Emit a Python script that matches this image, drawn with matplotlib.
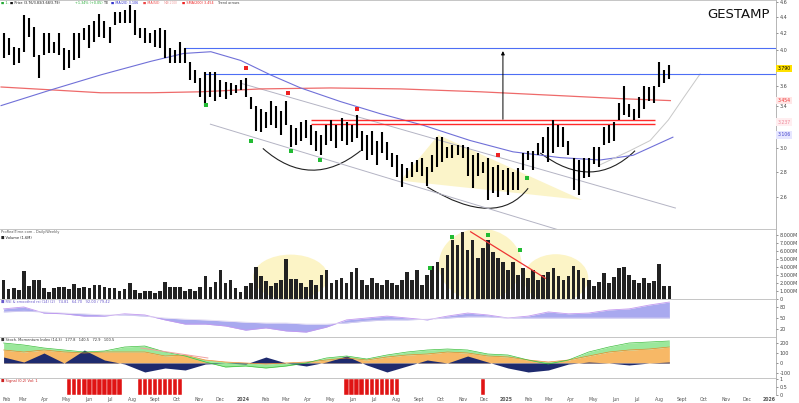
import datetime as dt
import matplotlib
matplotlib.use("Agg")
import matplotlib.pyplot as plt
import matplotlib.dates as mdates
from matplotlib.patches import Ellipse, Polygon, PathPatch
from matplotlib.path import Path
import numpy as np

# weekly bars, first week 2023-02-03
start = dt.date(2023, 2, 3)
highs = [4.20, 4.14, 4.03, 4.02, 4.43, 4.39, 4.28, 3.94, 4.21, 4.21, 4.09, 4.20, 4.02, 4.00, 4.20, 4.20,
         4.26, 4.30, 4.36, 4.45, 4.36, 4.28, 4.47, 4.47, 4.49, 4.56, 4.49, 4.26, 4.26, 4.21, 4.24, 4.26,
         4.24, 4.02, 4.00, 4.09, 4.02, 3.86, 3.77, 3.69, 3.75, 3.75, 3.75, 3.66, 3.64, 3.63, 3.61, 3.66,
         3.69, 3.49, 3.40, 3.37, 3.34, 3.45, 3.40, 3.35, 3.45, 3.21, 3.18, 3.24, 3.26, 3.21, 3.16, 3.12,
         3.21, 3.26, 3.21, 3.28, 3.24, 3.21, 3.31, 3.16, 3.12, 3.16, 3.07, 3.15, 3.06, 2.96, 2.94, 2.87,
         2.83, 2.88, 2.90, 2.92, 2.84, 2.94, 3.10, 3.10, 3.01, 3.03, 3.03, 3.03, 3.01, 2.94, 2.96, 2.88,
         2.92, 2.84, 2.86, 2.82, 2.83, 2.80, 2.83, 2.96, 2.98, 2.98, 3.05, 3.10, 3.19, 3.26, 3.21, 3.19,
         3.07, 2.92, 2.90, 2.92, 2.92, 3.01, 3.01, 3.19, 3.21, 3.24, 3.43, 3.60, 3.42, 3.37, 3.49, 3.60,
         3.59, 3.60, 3.86, 3.77, 3.83]
lows = [3.91, 3.94, 3.83, 3.85, 3.98, 4.15, 3.92, 3.69, 3.94, 3.96, 3.96, 3.94, 3.77, 3.79, 3.88, 3.91,
        4.12, 4.02, 4.09, 4.15, 4.14, 4.08, 4.30, 4.33, 4.33, 4.33, 4.18, 4.14, 4.08, 4.08, 4.03, 4.02,
        3.91, 3.85, 3.85, 3.85, 3.85, 3.66, 3.63, 3.49, 3.40, 3.49, 3.45, 3.49, 3.47, 3.51, 3.53, 3.56,
        3.49, 3.37, 3.16, 3.15, 3.18, 3.21, 3.18, 3.12, 3.21, 3.01, 3.03, 3.07, 3.09, 3.03, 2.98, 2.94,
        3.03, 3.07, 3.00, 3.07, 3.03, 3.06, 3.09, 2.98, 2.90, 2.94, 2.86, 2.96, 2.90, 2.84, 2.76, 2.68,
        2.75, 2.76, 2.80, 2.77, 2.69, 2.80, 2.84, 2.88, 2.92, 2.92, 2.94, 2.92, 2.77, 2.67, 2.77, 2.79,
        2.58, 2.63, 2.60, 2.66, 2.62, 2.66, 2.66, 2.82, 2.90, 2.82, 2.94, 2.96, 2.88, 2.96, 3.01, 3.01,
        2.94, 2.66, 2.62, 2.75, 2.76, 2.87, 2.84, 3.03, 3.05, 3.07, 3.26, 3.31, 3.29, 3.26, 3.28, 3.37,
        3.45, 3.43, 3.59, 3.63, 3.68]
volume = [2.4, 1.25, 1.4, 1.1, 3.5, 1.6, 2.4, 2.4, 1.4, 0.9, 1.4, 1.5, 1.5, 1.25, 1.9, 1.4,
          1.5, 1.4, 1.75, 1.75, 1.5, 1.4, 1.4, 1.0, 1.25, 2.0, 1.1, 0.75, 1.0, 1.0, 0.75, 1.0,
          2.1, 1.5, 1.5, 1.5, 1.0, 1.25, 1.0, 1.5, 2.9, 1.5, 2.1, 3.6, 2.0, 2.4, 1.4, 0.9,
          1.6, 2.0, 4.0, 2.9, 2.25, 1.6, 2.0, 2.4, 5.0, 2.5, 2.5, 2.0, 1.5, 2.4, 1.75, 3.0,
          3.6, 2.0, 2.4, 2.6, 2.0, 3.4, 3.9, 2.4, 1.75, 2.6, 2.0, 1.75, 2.4, 2.0, 1.75, 2.4,
          3.4, 2.4, 3.6, 1.75, 3.0, 4.1, 4.6, 3.9, 5.5, 7.4, 6.75, 8.4, 6.1, 7.4, 5.1, 6.4,
          7.4, 5.9, 5.1, 4.6, 3.6, 4.6, 3.0, 3.9, 2.6, 3.6, 2.4, 3.0, 3.4, 3.9, 2.9, 2.4,
          2.9, 4.1, 3.6, 2.6, 2.4, 1.6, 2.1, 3.25, 2.0, 2.75, 3.9, 4.0, 3.0, 2.4, 2.0, 2.6,
          2.0, 2.25, 4.4, 1.6, 1.6]

# moving averages (bar index, price)
ma_blue_bar = [-0.5, 9.4, 19.3, 29.2, 35.7, 41.1, 47.0, 52.9, 58.9, 66.8, 74.7, 83.2, 92.5, 101.0, 110.4, 118.3, 124.8, 132.7]
ma_blue = [3.40, 3.56, 3.72, 3.87, 3.96, 3.98, 3.88, 3.72, 3.58, 3.44, 3.32, 3.21, 3.07, 2.97, 2.92, 2.90, 2.94, 3.10]
ma_red_bar = [-0.5, 9.4, 19.3, 29.2, 39.1, 51.0, 64.8, 78.7, 94.5, 110.4, 122.2, 132.2]
ma_red = [3.59, 3.56, 3.53, 3.53, 3.54, 3.57, 3.58, 3.57, 3.54, 3.50, 3.47, 3.45]
gray_bar = [118.3, 124.2, 128.2, 131.8, 135.1, 138.1]
gray_curve = [2.86, 2.98, 3.07, 3.26, 3.50, 3.73]

# markers (bar index, price)
red_marks = [(48.0, 3.80), (56.3, 3.53), (70.0, 3.37), (98.1, 2.94)]
green_marks = [(40.1, 3.41), (49.0, 3.07), (56.9, 2.98), (62.8, 2.90), (103.8, 2.75)]
vol_marks = [(84.6, 3.9), (89.0, 7.75), (96.1, 8.0), (102.4, 6.1)]

# indicator knots every 4 weeks
knot_bar = list(range(0, 133, 4))
rsi = [74, 79, 63, 61, 55, 55, 61, 58, 45, 34, 34, 29, 18, 24, 16, 13, 26, 45, 50, 55, 50, 45, 55, 63,
       58, 50, 55, 66, 61, 63, 71, 74, 84, 92]
rsi_smooth = [66, 68, 66, 63, 61, 58, 58, 55, 50, 47, 45, 42, 39, 37, 37, 34, 34, 37, 42, 45, 45, 47, 50, 53,
              53, 50, 50, 50, 50, 50, 50, 50, 50, 50]
stoch_orange = [130, 110, 130, 110, 100, 110, 110, 110, 70, 80, 30, 10, 0, -10, 0, 10, 30, 50, 30, 60, 80, 90,
                110, 100, 70, 60, 30, 10, 30, 70, 110, 130, 140, 160]
stoch_green = [200, 180, 150, 130, 110, 120, 160, 170, 110, 70, 10, -40, -30, -50, -30, 0, 50, 70, 40, 80, 110,
               130, 140, 130, 90, 80, 30, -10, 30, 110, 160, 200, 210, 220]
stoch_navy = [60, 10, 100, 0, 130, 30, -10, -90, -50, -70, -10, 0, -10, 60, 0, -30, 10, 70, -20, -90, -30, 30,
              0, 70, 10, -50, -90, -70, -10, 10, 0, -20, 0, 10]
signal_bars = list(range(13, 24)) + list(range(27, 36)) + list(range(68, 79)) + [95]

W, H = 799, 403
fig = plt.figure(figsize=(W / 100, H / 100), dpi=100)
d0 = mdates.date2num(start)


def bx(b):
    return d0 + 7 * np.asarray(b, dtype=float)


dates = bx(np.arange(len(highs)))
x0 = mdates.date2num(dt.date(2023, 1, 29))
x1 = mdates.date2num(dt.date(2026, 1, 10))


def panel(top, bottom):
    a = fig.add_axes([0, 1 - bottom / H, 776 / W, (bottom - top) / H])
    a.set_xlim(x0, x1)
    a.yaxis.tick_right()
    a.tick_params(axis="y", labelsize=3.5, length=1.5, width=0.4, colors="#444444", pad=1)
    a.tick_params(axis="x", bottom=False, labelbottom=False)
    for s in ("left", "bottom"):
        a.spines[s].set_visible(False)
    a.spines["top"].set_color("#bbbbbb")
    a.spines["top"].set_linewidth(0.6)
    a.spines["right"].set_color("#999999")
    a.spines["right"].set_linewidth(0.5)
    return a


ax = panel(0, 229)
axv = panel(229, 299)
axr = panel(299, 337)
axs = panel(337, 378)
axg = panel(378, 395)

# ---- price panel
ax.set_yscale("log")
ax.set_ylim(2.37, 4.63)
ticks = [4.6, 4.4, 4.2, 4.0, 3.6, 3.4, 3.0, 2.8, 2.6]
ax.yaxis.set_minor_locator(matplotlib.ticker.NullLocator())
ax.set_yticks(ticks, [f"{t:.1f}" for t in ticks])

ax.add_patch(Polygon([(bx(78.7), 2.73), (bx(86.2), 3.12), (bx(114.7), 2.58)], closed=True,
                     fc="#fbf3c4", ec="none", alpha=0.9, zorder=0))
ax.plot([bx(47.0), bx(133.2)], [3.63, 2.52], color="#b4b4c4", lw=0.7)
ax.plot([bx(41.0), bx(110.4)], [3.22, 2.36], color="#b4b4c4", lw=0.7)
ax.plot(bx(ma_red_bar), ma_red, color="#ee6a6a", lw=0.9)
ax.plot(bx(ma_blue_bar), ma_blue, color="#7070d8", lw=0.8)
ax.plot(bx(gray_bar), gray_curve, color="#c8c8c8", lw=0.7)
ax.hlines(4.02, bx(35.7), x1, color="#4d6ef5", lw=0.8)
ax.hlines(3.727, bx(39.7), x1, color="#4d6ef5", lw=0.8)
ax.hlines([3.26, 3.22], bx(60.9), bx(129.2), color="#ff2a2a", lw=1.0)
ax.annotate("", xy=(bx(99), 4.02), xytext=(bx(99), 3.24),
            arrowprops=dict(arrowstyle="-|>", color="black", lw=0.7, mutation_scale=5))

for (sb, sp), (cb, cp), (eb, ep) in [((51.4, 3.00), (60.9, 2.65), (70.8, 2.98)),
                                      ((84.0, 2.68), (97.8, 2.37), (104.0, 2.67)),
                                      ((106.4, 2.96), (116.8, 2.64), (125.2, 2.98))]:
    path = Path([(bx(sb), sp), (bx(cb), cp), (bx(eb), ep)], [Path.MOVETO, Path.CURVE3, Path.CURVE3])
    ax.add_patch(PathPatch(path, fc="none", ec="#222222", lw=0.8))

ax.vlines(dates, lows, highs, color="black", lw=1.5)
ax.plot(bx([m[0] for m in red_marks]), [m[1] for m in red_marks], "s", color="#ee2222", ms=2.2, mew=0)
ax.plot(bx([m[0] for m in green_marks]), [m[1] for m in green_marks], "s", color="#22bb33", ms=2.2, mew=0)

ytr = ax.get_yaxis_transform()
for val, txt, fc, tc in [(3.79, "3.790", "#ffe100", "black"), (3.454, "3.454", "#ffe6e6", "#ee3333"),
                         (3.24, "3.237", "#ffeef0", "#ee8899"), (3.12, "3.106", "#e6e6ff", "#4444cc")]:
    ax.text(1.002, val, txt, transform=ytr, fontsize=3.3, color=tc, ha="left", va="center",
            bbox=dict(boxstyle="square,pad=0.25", fc=fc, ec="none"), clip_on=False)

fig.text(770 / W, 1 - 14 / H, "GESTAMP", fontsize=9.5, ha="right", va="center", color="#111111")

header = [(1, "\u25a0 1.", "#22aa33"), (10, "\u25a0 Price (3.76/3.83/3.68/3.79)", "#111111"),
          (75, "+1.34% (+0.05)", "#22aa33"), (104, "TE", "#111111"),
          (111, "\u25a0 MA(20) 3.106", "#3333cc"), (143, "\u25a0 MA(50)", "#ee4444"),
          (164, "MA(200)", "#f0a0a0"), (182, "\u25a0 SMA(200) 3.454", "#ee2222"),
          (218, "Trend arrows", "#444444")]
for xp, txt, col in header:
    fig.text(xp / W, 1 - 3 / H, txt, fontsize=2.4, color=col, va="center")

# ---- volume panel
axv.set_ylim(0, 8.75)
axv.add_patch(Ellipse((bx(56.9), 2.75), 104, 5.6, fc="#fcf3c0", ec="none", alpha=0.9, zorder=0))
axv.add_patch(Ellipse((bx(94.5), 4.3), 115, 9.0, fc="#fcf3c0", ec="none", alpha=0.9, zorder=0))
axv.add_patch(Ellipse((bx(109.5), 2.6), 90, 6.0, fc="#fcf3c0", ec="none", alpha=0.9, zorder=0))
axv.bar(dates, volume, width=5.1, color="#222222", ec="none", zorder=2)
axv.plot([bx(92.6), bx(107.4)], [8.4, 2.6], color="#ee3333", lw=0.9, zorder=3)
axv.plot(bx([m[0] for m in vol_marks]), [m[1] for m in vol_marks], "s", color="#22bb33", ms=2.2, mew=0, zorder=4)
vt = [0, 1, 2, 3, 4, 5, 6, 7, 8]
axv.set_yticks(vt, ["0"] + [f"{t:.3f}M" for t in vt[1:]])
fig.text(1 / W, 1 - 232 / H, "ProRealTime.com - Daily/Weekly", fontsize=2.6, color="#555555", va="center")
fig.text(1 / W, 1 - 238 / H, "\u25a0 Volume (1.6M)", fontsize=2.6, color="#222222", va="center")

# ---- RSI panel
axr.set_ylim(0, 100)
kb = bx(knot_bar)
axr.fill_between(kb, rsi, rsi_smooth, color="#a9a9ef", lw=0)
axr.plot(kb, rsi, color="#c49af0", lw=0.6)
axr.plot(kb, rsi_smooth, color="#e0d8f0", lw=0.5)
axr.set_yticks([80, 50, 20], ["80", "50", "20"])
fig.text(1 / W, 1 - 302 / H, "\u25a0 RSI & smoothed rsi (14) (2)   74.81   64.70   92.00 / 79.42",
         fontsize=2.6, color="#6a5acd", va="center")

# ---- stochastic panel
axs.set_ylim(-150, 260)
axs.fill_between(kb, 0, stoch_orange, color="#f7b866", lw=0)
axs.plot(kb, stoch_orange, color="#e8872a", lw=0.5)
axs.fill_between(kb, stoch_orange, stoch_green, color="#9be89b", lw=0)
axs.plot(kb, stoch_green, color="#3cbf3c", lw=0.5)
axs.fill_between(kb, 0, stoch_navy, color="#1e2a6e", lw=0)
axs.plot([bx(27.2), bx(40.5)], [150, 50], color="#f0a0a0", lw=0.7)
axs.set_yticks([200, 100, 0, -100], ["200", "100", "0", "-100"])
fig.text(1 / W, 1 - 340 / H, "\u25a0 Stoch. Momentum Index (14,3)   177.8   140.5   72.9   100.5",
         fontsize=2.6, color="#333333", va="center")

# ---- signal panel
axg.set_ylim(0, 1.05)
axg.bar(bx(signal_bars), 1, width=6.2, color="#e01414", ec="white", lw=0.3)
axg.set_yticks([1, 0.5, 0], ["1", "0.5", "0"])
fig.text(1 / W, 1 - 381 / H, "\u25a0 Signal (0.2) Vol: 1", fontsize=2.6, color="#cc2222", va="center")

month_names = ["", "Jan", "Feb", "Mar", "Apr", "May", "Jun", "Jul", "Aug", "Sept", "Oct", "Nov", "Dec"]
mt, ml = [], []
for y in (2023, 2024, 2025, 2026):
    for m in range(1, 13):
        d = dt.date(y, m, 1)
        if dt.date(2023, 2, 1) <= d <= dt.date(2026, 1, 1):
            mt.append(mdates.date2num(d))
            ml.append(str(y) if m == 1 else month_names[m])
axg.set_xticks(mt, ml)
axg.tick_params(axis="x", bottom=True, labelbottom=True, labelsize=3.3, length=0, pad=1.5, colors="#555555")
xl = axg.get_xticklabels()
xl[0].set_horizontalalignment("left")
for lbl in xl:
    if lbl.get_text().isdigit():
        lbl.set_fontweight("bold")

fig.savefig("out.png", dpi=100)
